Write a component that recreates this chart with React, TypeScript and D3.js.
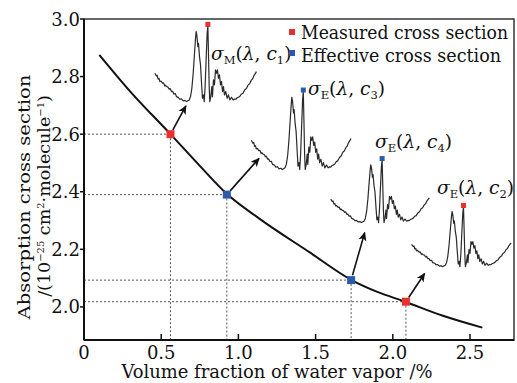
import React from "react";
import * as d3 from "d3";

// Main curve: absorption cross section vs water vapor fraction
const curveX = [0.1, 0.3, 0.56, 0.75, 0.93, 1.14, 1.46, 1.73, 1.9, 2.08, 2.32, 2.58];
const curveY = [2.875, 2.748, 2.6, 2.49, 2.39, 2.305, 2.19, 2.094, 2.052, 2.018, 1.97, 1.928];

// Marked points
const pointX = [0.56, 0.925, 1.73, 2.085];
const pointY = [2.6, 2.39, 2.093, 2.018];
const pointType = ["measured", "effective", "effective", "measured"];

// Axis ticks
const xTicks = [0, 0.5, 1.0, 1.5, 2.0, 2.5];
const xTickLabels = ["0", "0.5", "1.0", "1.5", "2.0", "2.5"];
const yTicks = [2.0, 2.2, 2.4, 2.6, 2.8, 3.0];
const yTickLabels = ["2.0", "2.2", "2.4", "2.6", "2.8", "3.0"];

// Spectrum shape (relative wavelength index, relative absorbance)
const specX = [0, 1.5, 2.3, 3.2, 4.1, 4.9, 6, 7.5, 8.5, 9.8, 10.5, 11.4, 12.8, 14.1, 15, 16.3, 17.4, 18.6, 20, 21.2, 23, 24.5, 26, 27.8, 29.5, 31.0, 33.7, 35, 36.3, 37.6, 38.9, 39.9, 40.5, 41.2, 42.2, 42.8, 43.8, 44.8, 45.8, 46.7, 47.7, 48.4, 49.3, 50.3, 51.3, 52, 52.6, 53.3, 53.9, 54.9, 55.9, 56.5, 57.5, 58.5, 59.5, 60.5, 61.4, 62.4, 63.4, 64.4, 65.4, 66.4, 67.3, 68.3, 69.6, 70.9, 72.2, 73.5, 75.2, 76.8, 78, 79.4, 80.7, 82, 83.5, 85, 86.5, 88.2, 90, 91.5, 93, 94.8, 96, 97.1, 99.7];
const specY = [37.7, 34, 35, 30, 31, 26.8, 27.5, 24.6, 25, 21, 22, 20.2, 19.5, 16.7, 17.5, 13.6, 14, 10.5, 11, 7, 6, 3.5, 4, 1.3, 2, 0.4, 2.6, 7, 18, 37.7, 64, 83.8, 92.5, 88, 72.8, 77, 59.6, 48.7, 24.6, 4.8, 9.2, 0.4, 20.2, 55.3, 90.4, 100, 64, 20.2, 0.4, 7, 20.2, 7, 29, 22.4, 42.1, 37.7, 42.1, 31.1, 35.5, 22.4, 26.8, 13.6, 20.2, 9.2, 13.6, 4.8, 9.2, 2.6, 6.1, 2.6, 3.8, 3.5, 5.5, 6.1, 7.5, 10.5, 11.5, 15.8, 18, 22.4, 24, 29, 30.5, 34.2, 39.9];

// Inset spectra labels
const insetSymbol = ["M", "E", "E", "E"];
const insetConc = ["1", "3", "4", "2"];
const insetType = ["measured", "effective", "effective", "measured"];

// Layout (data coordinates of inset boxes, arrow tips; pixel label anchors)
const insetBox = [
  { x0: 0.459, x1: 1.119, yTop: 2.976, yBot: 2.712 },
  { x0: 1.084, x1: 1.731, yTop: 2.748, yBot: 2.476 },
  { x0: 1.598, x1: 2.238, yTop: 2.51, yBot: 2.292 },
  { x0: 2.122, x1: 2.768, yTop: 2.347, yBot: 2.139 },
];
const arrowTip = [
  { x: 0.66, y: 2.698 },
  { x: 1.134, y: 2.516 },
  { x: 1.818, y: 2.258 },
  { x: 2.206, y: 2.116 },
];
const labelPos = [
  { x: 211, y: 60 },
  { x: 308, y: 95 },
  { x: 375, y: 148 },
  { x: 437, y: 194 },
];

const W = 517;
const H = 383;
const left = 84, right = 514, top = 19, bottom = 340;
const RED = "#e8302c";
const BLUE = "#2b5aa8";
const FONT = "'DejaVu Serif', serif";

export default function App() {
  const x = d3.scaleLinear().domain([0, 2.785]).range([left, right]);
  const y = d3.scaleLinear().domain([1.885, 3.0]).range([bottom, top]);

  const curvePts: [number, number][] = curveX.map((v, i) => [x(v), y(curveY[i])]);
  const line = d3.line().curve(d3.curveMonotoneX);
  const curvePath = line(curvePts) || "";

  const color = (t: string) => (t === "measured" ? RED : BLUE);

  return (
    <svg width={W} height={H} style={{ position: "absolute", left: 0, top: 0, background: "#fff" }} fontFamily={FONT}>
      <defs>
        <marker id="ah" viewBox="0 0 10 10" refX="9" refY="5" markerWidth="9" markerHeight="9" markerUnits="userSpaceOnUse" orient="auto">
          <path d="M0,0.5 L10,5 L0,9.5 L2.5,5 Z" fill="#111" />
        </marker>
      </defs>
      <rect x={0} y={0} width={W} height={H} fill="#fff" />

      {/* dotted guide lines */}
      {pointX.map((px, i) => (
        <g key={"g" + i} stroke="#555" strokeWidth={1} strokeDasharray="2,2" fill="none">
          <line x1={left} x2={x(px)} y1={y(pointY[i])} y2={y(pointY[i])} />
          <line x1={x(px)} x2={x(px)} y1={y(pointY[i])} y2={bottom} />
        </g>
      ))}

      {/* main curve */}
      <path d={curvePath} fill="none" stroke="#111" strokeWidth={2} />

      {/* insets */}
      {insetBox.map((b, k) => {
        const sx = d3.scaleLinear().domain([0, 100]).range([x(b.x0), x(b.x1)]);
        const sy = d3.scaleLinear().domain([0, 100]).range([y(b.yBot), y(b.yTop)]);
        const pts: [number, number][] = specX.map((v, i) => [sx(v), sy(specY[i])]);
        const d = d3.line()(pts) || "";
        const iMax = specY.indexOf(d3.max(specY) as number);
        return (
          <g key={"in" + k}>
            <path d={d} fill="none" stroke="#2a2a2a" strokeWidth={1.2} strokeLinejoin="round" />
            <rect x={sx(specX[iMax]) - 2.5} y={sy(specY[iMax]) - 4} width={5} height={5} fill={color(insetType[k])} />
          </g>
        );
      })}

      {/* arrows */}
      {arrowTip.map((t, i) => {
        const x0 = x(pointX[i]);
        const y0 = y(pointY[i]);
        const x1 = x(t.x);
        const y1 = y(t.y);
        const ang = Math.atan2(y1 - y0, x1 - x0);
        return (
          <line key={"ar" + i} x1={x0 + 5 * Math.cos(ang)} y1={y0 + 5 * Math.sin(ang)} x2={x1} y2={y1} stroke="#111" strokeWidth={1.6} markerEnd="url(#ah)" />
        );
      })}

      {/* points */}
      {pointX.map((px, i) => (
        <rect key={"p" + i} x={x(px) - 4} y={y(pointY[i]) - 4} width={8} height={8} fill={color(pointType[i])} />
      ))}

      {/* inset labels */}
      {labelPos.map((p, i) => (
        <text key={"lb" + i} x={p.x} y={p.y} fontSize={18.6} fill="#111">
          <tspan fontStyle="italic">σ</tspan>
          <tspan fontSize={11.5} dy={4}>{insetSymbol[i]}</tspan>
          <tspan dy={-4}>(</tspan>
          <tspan fontStyle="italic">λ</tspan>
          <tspan>, </tspan>
          <tspan fontStyle="italic">c</tspan>
          <tspan fontSize={11.5} dy={4}>{insetConc[i]}</tspan>
          <tspan dy={-4}>)</tspan>
        </text>
      ))}

      {/* frame */}
      <rect x={left} y={top} width={right - left} height={bottom - top} fill="none" stroke="#333" strokeWidth={1.5} />
      <line x1={left} x2={left} y1={top} y2={bottom} stroke="#111" strokeWidth={2} />
      <line x1={left} x2={right} y1={bottom} y2={bottom} stroke="#111" strokeWidth={2} />

      {/* x ticks */}
      {xTicks.map((t, i) => (
        <g key={"xt" + i}>
          {i > 0 && <line x1={x(t)} x2={x(t)} y1={bottom} y2={bottom - 6} stroke="#111" strokeWidth={1.5} />}
          <text x={x(t)} y={359} textAnchor="middle" fontSize={18} fill="#111">{xTickLabels[i]}</text>
        </g>
      ))}
      {/* y ticks */}
      {yTicks.map((t, i) => (
        <g key={"yt" + i}>
          <line x1={left - 4} x2={left} y1={y(t)} y2={y(t)} stroke="#111" strokeWidth={1.5} />
          <text x={left - 4} y={y(t) + 6.5} textAnchor="end" fontSize={18} fill="#111">{yTickLabels[i]}</text>
        </g>
      ))}

      {/* axis titles */}
      <text x={277} y={378} textAnchor="middle" fontSize={17.8} fill="#111" textLength={311} lengthAdjust="spacingAndGlyphs">Volume fraction of water vapor /%</text>
      <g transform="translate(30,197) rotate(-90)">
        <text x={0} y={0} textAnchor="middle" fontSize={17.5} fill="#111" textLength={245} lengthAdjust="spacingAndGlyphs">Absorption cross section</text>
      </g>
      <g transform="translate(49.5,196) rotate(-90)">
        <text x={0} y={0} textAnchor="middle" fontSize={17.5} fill="#111">
          /(10<tspan fontSize={10} dy={-5.5}>−25</tspan>
          <tspan dy={5.5}> cm</tspan>
          <tspan fontSize={10} dy={-5.5}>2</tspan>
          <tspan dy={5.5}>·molecule</tspan>
          <tspan fontSize={10} dy={-5.5}>−1</tspan>
          <tspan dy={5.5}>)</tspan>
        </text>
      </g>

      {/* legend */}
      <rect x={289} y={29} width={6} height={6} fill={RED} />
      <text x={301} y={39} fontSize={18} fill="#111" textLength={207} lengthAdjust="spacingAndGlyphs">Measured cross section</text>
      <rect x={289} y={50} width={6} height={6} fill={BLUE} />
      <text x={301} y={62} fontSize={18} fill="#111" textLength={200} lengthAdjust="spacingAndGlyphs">Effective cross section</text>
    </svg>
  );
}
